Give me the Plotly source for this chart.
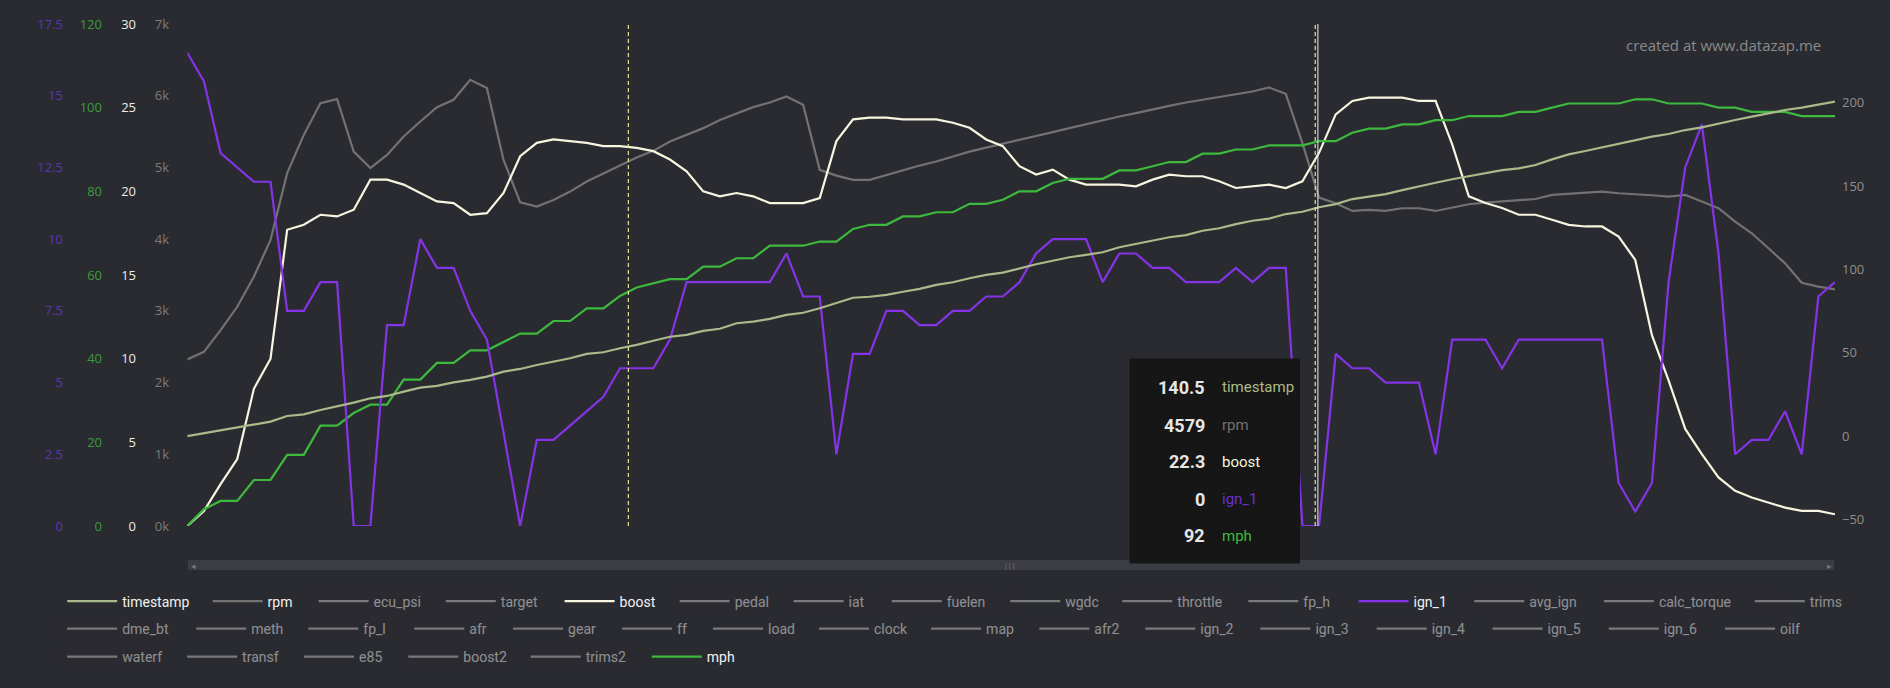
import plotly.graph_objects as go

# ---------------- data ----------------
sample = list(range(100))

timestamp = [0, 1.7, 3.3, 5.3, 7.1, 8.7, 12.1, 13.1, 15.7, 17.7, 20.1, 22.7, 24.1, 26.7, 29.1, 30.1, 32.2,
             33.7, 35.7, 38.7, 40.3, 42.7, 44.7, 46.7, 49.3, 50.3, 52.7, 54.7, 57.2, 59.6, 60.7, 63.1, 64.4,
             67.7, 68.7, 70.3, 72.7, 74.0, 76.7, 79.7, 83.0, 83.6, 84.7, 86.6, 88.3, 90.7, 92.3, 94.7, 96.7,
             98.1, 100.7, 103.1, 105.2, 107.3, 108.7, 110.3, 113.3, 115.2, 117.2, 119.3, 120.6, 123.2, 124.7, 127.2, 129.2, 130.5,
             133.2, 134.6, 137.3, 139.2, 142.2, 143.6, 145.2, 147.6, 149.6, 152.0, 154.1, 156.0, 157.7, 159.6, 160.6, 162.6,
             166.0, 169.0, 171.0, 173.2, 175.6, 177.6, 179.6, 181.2, 183.6, 185.2, 187.6, 189.6, 191.6, 193.6, 195.6, 197.0, 198.6, 200.6]

rpm = [2323, 2429, 2732, 3057, 3476, 3988, 4920, 5454, 5897, 5953, 5221, 4990, 5175, 5431, 5640, 5841, 5943,
       6222, 6106, 5105, 4515, 4454, 4547, 4663, 4803, 4920, 5026, 5138, 5231, 5361, 5454, 5548, 5660,
       5748, 5841, 5905, 5989, 5873, 4966, 4886, 4826, 4826, 4896, 4966, 5026, 5082, 5151, 5221, 5277,
       5329, 5385, 5431, 5492, 5548, 5604, 5654, 5710, 5757, 5813, 5859, 5905, 5943, 5981, 6013, 6059, 6115,
       6027, 5339, 4579, 4501, 4393, 4407, 4393, 4431, 4431, 4393, 4445, 4487, 4510, 4524, 4547, 4560,
       4617, 4631, 4649, 4663, 4640, 4631, 4612, 4593, 4617, 4524, 4431, 4244, 4082, 3873, 3663, 3392, 3337, 3300]

boost = [0, 0.9, 2.5, 4.0, 8.2, 10.0, 17.7, 18.0, 18.6, 18.5, 18.9, 20.7, 20.7, 20.4, 19.9, 19.4, 19.3,
         18.6, 18.7, 19.9, 22.1, 22.9, 23.1, 23.0, 22.9, 22.7, 22.7, 22.6, 22.4, 21.9, 21.2, 20.0, 19.7,
         19.9, 19.7, 19.3, 19.3, 19.3, 19.6, 23.0, 24.3, 24.4, 24.4, 24.3, 24.3, 24.3, 24.1, 23.8, 23.1,
         22.7, 21.5, 21.0, 21.3, 20.7, 20.4, 20.4, 20.4, 20.3, 20.7, 21.0, 20.9, 20.9, 20.6, 20.2, 20.3, 20.4,
         20.2, 20.6, 22.3, 24.6, 25.4, 25.6, 25.6, 25.6, 25.4, 25.4, 22.8, 19.7, 19.3, 19.0, 18.6, 18.6,
         18.3, 18.0, 17.9, 17.9, 17.3, 15.9, 11.4, 8.7, 5.8, 4.3, 2.9, 2.1, 1.7, 1.4, 1.1, 0.9, 0.9, 0.7]

ign_1 = [16.5, 15.5, 13.0, 12.5, 12.0, 12.0, 7.5, 7.5, 8.5, 8.5, 0, 0, 7.0, 7.0, 10.0, 9.0, 9.0,
         7.5, 6.5, 3.25, 0, 3.0, 3.0, 3.5, 4.0, 4.5, 5.5, 5.5, 5.5, 6.5, 8.5, 8.5, 8.5,
         8.5, 8.5, 8.5, 9.5, 8.0, 8.0, 2.5, 6.0, 6.0, 7.5, 7.5, 7.0, 7.0, 7.5, 7.5, 8.0,
         8.0, 8.5, 9.5, 10.0, 10.0, 10.0, 8.5, 9.5, 9.5, 9.0, 9.0, 8.5, 8.5, 8.5, 9.0, 8.5, 9.0,
         9.0, 0, 0, 6.0, 5.5, 5.5, 5.0, 5.0, 5.0, 2.5, 6.5, 6.5, 6.5, 5.5, 6.5, 6.5,
         6.5, 6.5, 6.5, 6.5, 1.5, 0.5, 1.5, 8.5, 12.5, 14.0, 9.5, 2.5, 3.0, 3.0, 4.0, 2.5, 8.0, 8.5]

mph = [0, 4, 6, 6, 11, 11, 17, 17, 24, 24, 27, 29, 29, 35, 35, 39, 39,
       42, 42, 44, 46, 46, 49, 49, 52, 52, 55, 57, 58, 59, 59, 62, 62,
       64, 64, 67, 67, 67, 68, 68, 71, 72, 72, 74, 74, 75, 75, 77, 77,
       78, 80, 80, 82, 83, 83, 83, 85, 85, 86, 87, 87, 89, 89, 90, 90, 91,
       91, 91, 92, 92, 94, 95, 95, 96, 96, 97, 97, 98, 98, 98, 99, 99,
       100, 101, 101, 101, 101, 102, 102, 101, 101, 101, 100, 100, 99, 99, 99, 98, 98, 98]

legend_row1 = ["timestamp", "rpm", "ecu_psi", "target", "boost", "pedal", "iat", "fuelen", "wgdc",
               "throttle", "fp_h", "ign_1", "avg_ign", "calc_torque", "trims"]
legend_row2 = ["dme_bt", "meth", "fp_l", "afr", "gear", "ff", "load", "clock", "map", "afr2",
               "ign_2", "ign_3", "ign_4", "ign_5", "ign_6", "oilf"]
legend_row3 = ["waterf", "transf", "e85", "boost2", "trims2", "mph"]

rpm_ticks = [0, 1000, 2000, 3000, 4000, 5000, 6000, 7000]
rpm_ticktext = ["0k", "1k", "2k", "3k", "4k", "5k", "6k", "7k"]
ign_ticks = [0, 2.5, 5, 7.5, 10, 12.5, 15, 17.5]
mph_ticks = [0, 20, 40, 60, 80, 100, 120]
boost_ticks = [0, 5, 10, 15, 20, 25, 30]
ts_ticks = [-50, 0, 50, 100, 150, 200]

cursor_markers = [26.5, 67.77]   # dashed cursor lines (sample index)
hover_marker = 67.93             # solid hover line
hover_names = ["timestamp", "rpm", "boost", "ign_1", "mph"]
hover_values = ["140.5", "4579", "22.3", "0", "92"]

# ---------------- layout / styling ----------------
W, H = 1890, 688
BG = "#2a2b30"
COL = {"timestamp": "#abba8a", "rpm": "#727272", "boost": "#f7f5df", "ign_1": "#8434e6", "mph": "#3dba3d"}
AXIS = {"timestamp": "y5", "rpm": "y", "boost": "y2", "mph": "y3", "ign_1": "y4"}
SERIES = {"timestamp": timestamp, "rpm": rpm, "boost": boost, "ign_1": ign_1, "mph": mph}
LEGFONT = "Liberation Sans Narrow, Roboto, sans-serif"
AXFONT = "Open Sans, sans-serif"

# legend entry line-start positions (px) per row, and row centres (px)
row_line_x = [
    [67.9, 213.3, 319.3, 446.5, 565.3, 680.4, 794.3, 892.4, 1010.9, 1123.0, 1249.0, 1359.3, 1475.0, 1604.6, 1755.5],
    [67.9, 196.9, 309.0, 415.0, 513.8, 622.8, 713.7, 819.7, 931.8, 1040.0, 1146.0, 1261.1, 1377.4, 1493.2, 1609.5, 1725.8],
    [67.9, 187.8, 304.8, 409.0, 531.4, 652.5],
]
row_y = [601.5, 629, 657]

T, B = 24, 162
PH = H - T - B


def px(x):
    return x / W


def py(y):
    return (H - B - y) / PH


fig = go.Figure()
legend_layouts = {}
k = 0
for row, xs, yrow in zip((legend_row1, legend_row2, legend_row3), row_line_x, row_y):
    for name, xl in zip(row, xs):
        lid = "legend" if k == 0 else "legend%d" % (k + 1)
        k += 1
        legend_layouts[lid] = dict(orientation="h", xanchor="left", yanchor="middle",
                                   x=px(xl - 5.7), y=py(yrow),
                                   bgcolor="rgba(0,0,0,0)", borderwidth=0, itemwidth=50,
                                   font=dict(family=LEGFONT, size=14, color="#f2f2f2"),
                                   itemclick=False, itemdoubleclick=False)
        if name in SERIES:
            fig.add_trace(go.Scatter(x=sample, y=SERIES[name], name=name, mode="lines",
                                     yaxis=AXIS[name], legend=lid,
                                     line=dict(color=COL[name], width=2.2)))
        else:
            fig.add_trace(go.Scatter(x=[None], y=[None], name=name, mode="lines",
                                     visible="legendonly", legend=lid,
                                     line=dict(color="#c8c8c8", width=2.2)))


def yax(color, **kw):
    d = dict(showgrid=False, zeroline=False, showline=False, ticks="", automargin=False,
             tickfont=dict(family=AXFONT, size=13, color=color))
    d.update(kw)
    return d


fig.update_layout(
    width=W, height=H,
    paper_bgcolor=BG, plot_bgcolor=BG,
    margin=dict(l=0, r=0, t=T, b=B, pad=0),
    hovermode=False,
    showlegend=True,
    xaxis=dict(domain=[px(187.3), px(1835)], range=[0, 99], visible=False),
    yaxis=yax("#7c7c7c", range=[0, 7000], tickvals=rpm_ticks, ticktext=rpm_ticktext,
              anchor="free", position=px(169), side="left"),
    yaxis2=yax("#ececec", range=[0, 30], tickvals=boost_ticks, overlaying="y",
               anchor="free", position=px(136), side="left"),
    yaxis3=yax("#3a9c3a", range=[0, 120], tickvals=mph_ticks, overlaying="y",
               anchor="free", position=px(102), side="left"),
    yaxis4=yax("#5b34b0", range=[0, 17.5], tickvals=ign_ticks, overlaying="y",
               anchor="free", position=px(63), side="left"),
    yaxis5=yax("#8e8e8e", range=[-53.9, 247.2], tickvals=ts_ticks, overlaying="y",
               anchor="free", position=px(1841), side="right"),
    **legend_layouts,
)

shapes = []
for xm in cursor_markers:
    shapes.append(dict(type="line", xref="x", yref="paper", x0=xm, x1=xm, y0=0, y1=1,
                       line=dict(color="#e4e690", width=1.2, dash="4px,3px")))
shapes.append(dict(type="line", xref="x", yref="paper", x0=hover_marker, x1=hover_marker, y0=0, y1=1,
                   line=dict(color="#ececec", width=1)))
# scroll bar
shapes.append(dict(type="rect", xref="paper", yref="paper", x0=px(188), x1=px(1834), y0=py(570), y1=py(560),
                   fillcolor="#3b3d44", line=dict(width=0), layer="above"))
# tooltip box
shapes.append(dict(type="rect", xref="paper", yref="paper", x0=px(1129.5), x1=px(1300), y0=py(563.5), y1=py(358.5),
                   fillcolor="#161616", line=dict(width=0), layer="above"))
fig.update_layout(shapes=shapes)

ann = [dict(x=px(1823), y=py(45), xref="paper", yref="paper", text="created at www.datazap.me",
            showarrow=False, xanchor="right", yanchor="middle",
            font=dict(family=AXFONT, size=15, color="#8a8a8a")),
       dict(x=px(193), y=py(565), xref="paper", yref="paper", text="◂", showarrow=False,
            font=dict(size=9, color="#777"), xanchor="center", yanchor="middle"),
       dict(x=px(1829), y=py(565), xref="paper", yref="paper", text="▸", showarrow=False,
            font=dict(size=9, color="#777"), xanchor="center", yanchor="middle"),
       dict(x=px(1010), y=py(565), xref="paper", yref="paper", text="|||", showarrow=False,
            font=dict(size=7, color="#888"), xanchor="center", yanchor="middle")]
rows_y = [387.3, 425, 461.7, 499, 535.7]
for nm, val, yy in zip(hover_names, hover_values, rows_y):
    ann.append(dict(x=px(1207), y=py(yy), xref="paper", yref="paper", text="<b>" + val + "</b>",
                    showarrow=False, xanchor="right", yanchor="middle",
                    font=dict(family=LEGFONT, size=18, color="#e6e6e6")))
    ann.append(dict(x=px(1220), y=py(yy), xref="paper", yref="paper", text=nm,
                    showarrow=False, xanchor="left", yanchor="middle",
                    font=dict(family=LEGFONT, size=15, color=COL[nm] if nm != "ign_1" else "#6a2fd0")))
fig.update_layout(annotations=ann)

fig.write_html("out.html")
